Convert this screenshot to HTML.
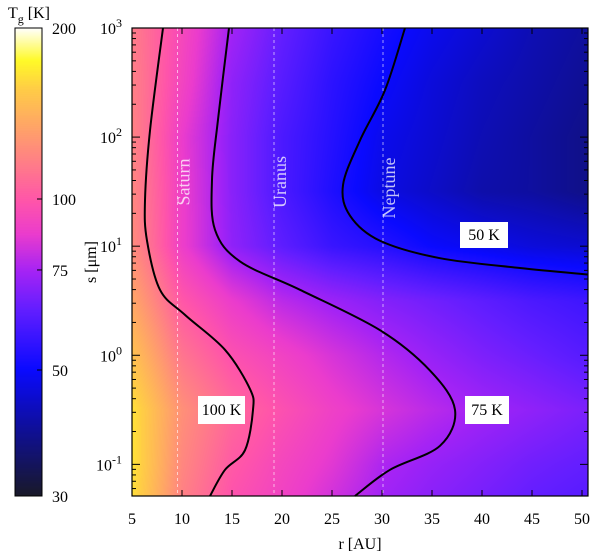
<!DOCTYPE html>
<html><head><meta charset="utf-8"><style>
body{margin:0;background:#fff;}
#wrap{position:relative;width:600px;height:551px;font-family:"Liberation Serif",serif;}
canvas{position:absolute;left:0;top:0;}
svg{position:absolute;left:0;top:0;}
</style></head><body>
<div id="wrap">
<canvas id="cv" width="600" height="551"></canvas>
<svg id="sv" width="600" height="551"></svg>
</div>
<script>
// ---- data ----
const rGrid = [5,10,15,20,25,30,35,40,45,50];
const logSGrid = [3,2.5,2,1.5,1,0.5,0,-0.5,-1,-1.3];
const tempRow0 = [115,93,74,64,57,52,48,45,42,40];
const tempRow1 = [117,91,71,62,55,50,46,43,41,39];
const tempRow2 = [118,87,70,60,54,48,45,42,40,38];
const tempRow3 = [120,88,70,60,53,47,44,41,40,38];
const tempRow4 = [122,88,71,63,57,54,50,48,46,45];
const tempRow5 = [135,100,87,78,73,69,66,63,60,58];
const tempRow6 = [150,112,97,90,83,77,72,68,65,62];
const tempRow7 = [165,124,107,97,89,83,78,74,71,68];
const tempRow8 = [166,120,101,92,85,76,72,69,66,64];
const tempRow9 = [164,117,98,90,82,74,70,67,64,62];
const tempGrid = [tempRow0,tempRow1,tempRow2,tempRow3,tempRow4,tempRow5,tempRow6,tempRow7,tempRow8,tempRow9];

const contour100R = [8.1,6.8,6.3,6.5,7.8,10.3,14.3,16.8,17.1,16.3,14.3,12.8];
const contour100LogS = [3,2.06,1.42,1.05,0.6,0.37,0.05,-0.31,-0.5,-0.87,-1.05,-1.29];
const contour75R = [14.7,13.6,13.0,13.3,15.8,21.8,29.8,34.8,37.3,35.8,30.8,27.3];
const contour75LogS = [3,2.16,1.61,1.15,0.86,0.6,0.23,-0.14,-0.5,-0.83,-1.05,-1.29];
const contour50R = [32.3,30.3,27.8,26.1,26.8,29.8,35.8,43.8,50.6];
const contour50LogS = [3,2.43,1.97,1.56,1.28,1.05,0.89,0.8,0.74];

const planetNames = ["Saturn","Uranus","Neptune"];
const planetR = [9.55,19.2,30.1];
const xTicks = [5,10,15,20,25,30,35,40,45,50];
const yTickExp = [-1,0,1,2,3];
const cbTicks = [200,100,75,50,30];

// ---- axes ----
const X0=132, X1=588, Y0=28, Y1=496;
const rMin=5, rMax=50.6, lsMin=-1.29, lsMax=3;
const xs = r => X0 + (r-rMin)/(rMax-rMin)*(X1-X0);
const ys = l => Y1 - (l-lsMin)/(lsMax-lsMin)*(Y1-Y0);
const CB0=28, CB1=496, CBX=15, CBW=27;
const cbY = t => CB1 - Math.log(t/30)/Math.log(200/30)*(CB1-CB0);

const stops=[[0,[25,25,40]],[0.14,[15,15,150]],[0.27,[10,10,255]],[0.4,[100,30,255]],[0.48,[165,35,245]],[0.56,[235,60,205]],[0.63,[255,85,170]],[0.76,[255,150,115]],[0.87,[255,205,70]],[0.93,[255,250,40]],[1,[255,255,255]]];
function cmap(t){
  let f=Math.log(t/30)/Math.log(200/30); f=Math.max(0,Math.min(1,f));
  for(let i=1;i<stops.length;i++){ if(f<=stops[i][0]){ const a=stops[i-1],b=stops[i],u=(f-a[0])/(b[0]-a[0]); return a[1].map((v,k)=>Math.round(v+(b[1][k]-v)*u)); } }
  return stops[stops.length-1][1];
}
function tempAt(r,l){
  let i=0; while(i<rGrid.length-2 && r>rGrid[i+1]) i++;
  let j=0; while(j<logSGrid.length-2 && l<logSGrid[j+1]) j++;
  const u=Math.max(0,Math.min(1,(r-rGrid[i])/(rGrid[i+1]-rGrid[i])));
  const v=Math.max(0,Math.min(1,(l-logSGrid[j])/(logSGrid[j+1]-logSGrid[j])));
  const a=tempGrid[j][i],b=tempGrid[j][i+1],c=tempGrid[j+1][i],d=tempGrid[j+1][i+1];
  return a*(1-u)*(1-v)+b*u*(1-v)+c*(1-u)*v+d*u*v;
}
const ctx=document.getElementById('cv').getContext('2d');
const img=ctx.createImageData(X1-X0,Y1-Y0);
for(let py=0;py<Y1-Y0;py++){const l=lsMax-(py+0.5)/(Y1-Y0)*(lsMax-lsMin);
  for(let px=0;px<X1-X0;px++){const r=rMin+(px+0.5)/(X1-X0)*(rMax-rMin);
    const c=cmap(tempAt(r,l)),k=(py*(X1-X0)+px)*4; img.data[k]=c[0];img.data[k+1]=c[1];img.data[k+2]=c[2];img.data[k+3]=255;}}
ctx.putImageData(img,X0,Y0);
const cimg=ctx.createImageData(CBW,CB1-CB0);
for(let py=0;py<CB1-CB0;py++){const t=30*Math.pow(200/30,1-(py+0.5)/(CB1-CB0));const c=cmap(t);
  for(let px=0;px<CBW;px++){const k=(py*CBW+px)*4;cimg.data[k]=c[0];cimg.data[k+1]=c[1];cimg.data[k+2]=c[2];cimg.data[k+3]=255;}}
ctx.putImageData(cimg,CBX,CB0);

// ---- svg overlay ----
const sv=document.getElementById('sv'), NS="http://www.w3.org/2000/svg";
function mk(tag,at,parent){const e=document.createElementNS(NS,tag);for(const k in at)e.setAttribute(k,at[k]);(parent||sv).appendChild(e);return e;}
function smooth(R,L){const p=R.map((r,i)=>[xs(r),ys(L[i])]);let d=`M${p[0][0]},${p[0][1]}`;
  for(let i=0;i<p.length-1;i++){const p0=p[Math.max(0,i-1)],p1=p[i],p2=p[i+1],p3=p[Math.min(p.length-1,i+2)];
    d+=` C${p1[0]+(p2[0]-p0[0])/6},${p1[1]+(p2[1]-p0[1])/6} ${p2[0]-(p3[0]-p1[0])/6},${p2[1]-(p3[1]-p1[1])/6} ${p2[0]},${p2[1]}`;}return d;}

planetR.forEach((r,i)=>{
  const ln=mk('line',{x1:xs(r),x2:xs(r),y1:Y0,y2:Y1,stroke:'#fff','stroke-opacity':0.6,'stroke-width':1,'stroke-dasharray':'3,3'});
  
  
  const tx=xs(r)+8, ty=[182,182,188][i];
  const t=mk('text',{x:tx,y:ty,transform:`rotate(-90 ${tx} ${ty})`,'text-anchor':'middle',fill:'#fff','fill-opacity':0.75,'font-size':18,'dominant-baseline':'middle'});
  t.textContent=planetNames[i];
  
  
});
[[contour100R,contour100LogS,'100'],[contour75R,contour75LogS,'75'],[contour50R,contour50LogS,'50']].forEach(c=>{
  const p=mk('path',{d:smooth(c[0],c[1]),fill:'none',stroke:'#000','stroke-width':2});
  
  
});
[[198,396,47,28,'100 K'],[465,396,44,28,'75 K'],[460,222,48,26,'50 K']].forEach(b=>{
  const g=mk('g',{});
  
  
  mk('rect',{x:b[0],y:b[1],width:b[2],height:b[3],fill:'#fff'},g);
  const t=mk('text',{x:b[0]+b[2]/2,y:b[1]+b[3]/2+5,'text-anchor':'middle','font-size':16},g);t.textContent=b[4];
});
const fr=mk('rect',{x:X0,y:Y0,width:X1-X0,height:Y1-Y0,fill:'none',stroke:'#000','stroke-width':1.2});

xTicks.forEach(v=>{const x=xs(v);
  mk('line',{x1:x,x2:x,y1:Y1,y2:Y1-6,stroke:'#000'});mk('line',{x1:x,x2:x,y1:Y0,y2:Y0+6,stroke:'#000'});
  const t=mk('text',{x:x,y:524,'text-anchor':'middle','font-size':16});t.textContent=v;
  });
yTickExp.forEach(e=>{const y=ys(e);
  mk('line',{x1:X0,x2:X0+8,y1:y,y2:y,stroke:'#000'});mk('line',{x1:X1,x2:X1-8,y1:y,y2:y,stroke:'#000'});
  for(let m=2;m<10;m++){const yy=ys(e+Math.log10(m));if(yy>=Y0&&yy<=Y1){mk('line',{x1:X0,x2:X0+4,y1:yy,y2:yy,stroke:'#000'});mk('line',{x1:X1,x2:X1-4,y1:yy,y2:yy,stroke:'#000'});}}
  if(e===-1){for(let m=5;m<10;m++){const yy=ys(-2+Math.log10(m));if(yy<=Y1)mk('line',{x1:X0,x2:X0+4,y1:yy,y2:yy,stroke:'#000'});}}
  const t=mk('text',{x:122,y:y+6,'text-anchor':'end','font-size':16});t.innerHTML='10<tspan dy="-7" font-size="12">'+e+'</tspan>';
  });
const xt=mk('text',{x:360,y:549,'text-anchor':'middle','font-size':16});xt.textContent='r [AU]';

const yt=mk('text',{x:96,y:262,'text-anchor':'middle','font-size':16,transform:'rotate(-90 96 262)'});yt.textContent='s [μm]';

const cf=mk('rect',{x:CBX,y:CB0,width:CBW,height:CB1-CB0,fill:'none',stroke:'#000','stroke-width':1});

cbTicks.forEach(v=>{const y=cbY(v);
  mk('line',{x1:CBX+CBW-5,x2:CBX+CBW,y1:y,y2:y,stroke:'#000'});
  const t=mk('text',{x:52,y:y+6,'font-size':16});t.textContent=v;
  });
const ct=mk('text',{x:8,y:18,'font-size':16});ct.innerHTML='T<tspan dy="5" font-size="12">g</tspan><tspan dy="-5"> [K]</tspan>';

</script>
</body></html>
